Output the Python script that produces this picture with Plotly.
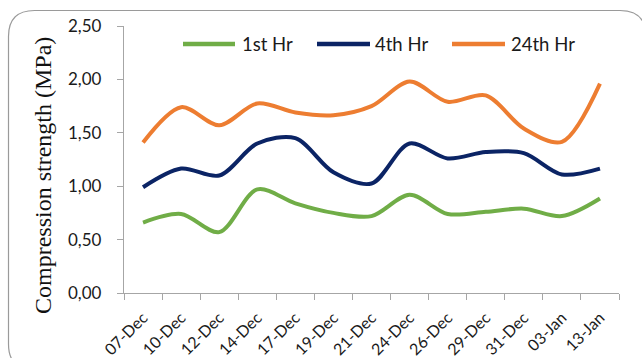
import plotly.graph_objects as go

# Test dates
dates = ["07-Dec", "10-Dec", "12-Dec", "14-Dec", "17-Dec", "19-Dec", "21-Dec",
         "24-Dec", "26-Dec", "29-Dec", "31-Dec", "03-Jan", "13-Jan"]

# Compression strength (MPa) after each curing time
hr1 = [0.66, 0.74, 0.57, 0.97, 0.84, 0.75, 0.72, 0.92, 0.74, 0.76, 0.79, 0.72, 0.885]
hr4 = [0.99, 1.165, 1.10, 1.40, 1.45, 1.13, 1.025, 1.40, 1.26, 1.32, 1.31, 1.11, 1.165]
hr24 = [1.41, 1.74, 1.57, 1.775, 1.69, 1.665, 1.75, 1.98, 1.79, 1.85, 1.54, 1.415, 1.96]

series_names = ["1st Hr", "4th Hr", "24th Hr"]
series_values = [hr1, hr4, hr24]
colors = ["#70AD47", "#0B2465", "#ED7D31"]

W, H = 642, 358
ML, MR, MT, MB = 124, 23, 26, 65
PW, PH = W - ML - MR, H - MT - MB


def px(x):
    return (x - ML) / PW


def py(y):
    return (H - MB - y) / PH


fig = go.Figure()
for name, vals, col in zip(series_names, series_values, colors):
    fig.add_trace(go.Scatter(
        x=dates, y=vals, name=name, mode="lines",
        line=dict(color=col, width=4, shape="spline", smoothing=0.9),
        showlegend=False,
    ))

axis_col = "#A6A6A6"
font_sans = "Lato, 'Open Sans', sans-serif"

fig.update_layout(
    width=W, height=H,
    margin=dict(l=ML, r=MR, t=MT, b=MB, autoexpand=False),
    paper_bgcolor="white", plot_bgcolor="white",
    separators=",.",
    xaxis=dict(
        type="category", range=[-0.5, len(dates) - 0.5], automargin=False,
        showline=True, linecolor=axis_col, linewidth=1.3,
        ticks="outside", tickson="boundaries", ticklen=6, tickcolor=axis_col,
        tickangle=-45, showgrid=False, zeroline=False, ticklabelstandoff=8,
        tickfont=dict(family=font_sans, size=16, color="#1a1a1a"),
    ),
    yaxis=dict(
        range=[0, 2.5], tickvals=[0, 0.5, 1.0, 1.5, 2.0, 2.5], tickformat=".2f",
        automargin=False,
        showline=True, linecolor=axis_col, linewidth=1.3,
        ticks="outside", ticklen=6, tickcolor=axis_col,
        showgrid=False, zeroline=False, ticklabelstandoff=12,
        tickfont=dict(family=font_sans, size=17, color="#1a1a1a"),
    ),
)

# Axis title
fig.add_annotation(
    x=px(43), y=py(176), xref="paper", yref="paper",
    text="Compression strength (MPa)", textangle=-90, showarrow=False,
    font=dict(family="'Liberation Serif', 'Times New Roman', serif", size=24, color="#111"),
    xanchor="center", yanchor="middle",
)

# Legend: line sample followed by label
legend_items = [(183, 235, 240), (317, 370, 373), (452, 505, 509)]
for (x0, x1, tx), name, col in zip(legend_items, series_names, colors):
    fig.add_shape(type="line", xref="paper", yref="paper",
                  x0=px(x0), x1=px(x1), y0=py(44), y1=py(44),
                  line=dict(color=col, width=4.5))
    fig.add_annotation(x=px(tx), y=py(44), xref="paper", yref="paper",
                       text=name, showarrow=False, xanchor="left", yanchor="middle",
                       font=dict(family=font_sans, size=18.5, color="#1a1a1a"))

# Rounded chart frame
fx0, fy0, fx1, fy1, r = 8.5, 10.5, 646, 370, 26
path = (f"M {px(fx0 + r)} {py(fy0)} L {px(fx1 - r)} {py(fy0)} "
        f"Q {px(fx1)} {py(fy0)} {px(fx1)} {py(fy0 + r)} "
        f"L {px(fx1)} {py(fy1 - r)} Q {px(fx1)} {py(fy1)} {px(fx1 - r)} {py(fy1)} "
        f"L {px(fx0 + r)} {py(fy1)} Q {px(fx0)} {py(fy1)} {px(fx0)} {py(fy1 - r)} "
        f"L {px(fx0)} {py(fy0 + r)} Q {px(fx0)} {py(fy0)} {px(fx0 + r)} {py(fy0)} Z")
fig.add_shape(type="path", xref="paper", yref="paper", path=path,
              line=dict(color="#9A9A9A", width=1.2), layer="below")

fig.write_html("out.html")
